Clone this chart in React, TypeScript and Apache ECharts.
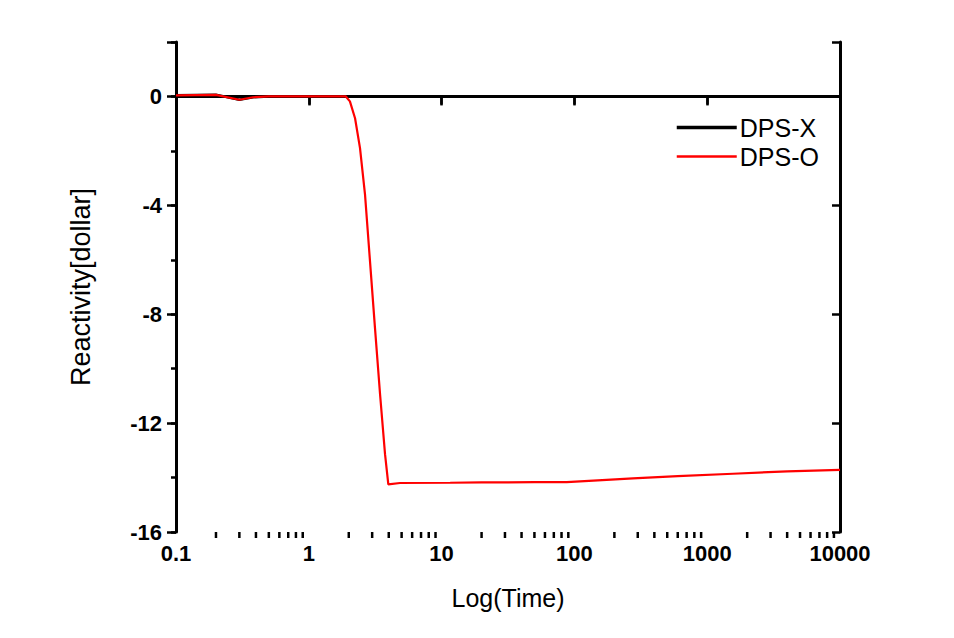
import React, { useEffect, useRef } from "react";
import * as echarts from "echarts";

const seriesNames = ["DPS-X", "DPS-O"];

// DPS-O (red)
const timeO = [0.1, 0.2, 0.3, 0.38, 0.5, 1, 1.5, 1.9, 2.04, 2.23, 2.43, 2.65, 2.89, 3.15, 3.44, 3.75, 3.97, 4.86, 11.6, 20, 50, 87.5, 150, 276, 600, 1563, 4000, 10000];
const valO = [0.04, 0.06, -0.12, -0.03, 0, 0, 0, 0, -0.18, -0.8, -1.9, -3.6, -6.06, -8.5, -10.94, -13.14, -14.25, -14.2, -14.19, -14.18, -14.17, -14.17, -14.1, -14.03, -13.95, -13.86, -13.77, -13.72];

// DPS-X (black)
const timeX = [0.1, 0.2, 0.3, 0.38, 0.5, 1, 1.9, 10, 100, 1000, 10000];
const valX = [0.04, 0.06, -0.12, -0.03, 0, 0, 0, 0, 0, 0, 0];

const xMin = 0.1;
const xMax = 10000;
const yMin = -16;
const yMax = 2;
const yLabelTicks = [0, -4, -8, -12, -16];

// log minor tick positions (2..9 within each decade)
const minorTickValues: number[] = [];
[0.1, 1, 10, 100, 1000].forEach((d) => {
  [2, 3, 4, 5, 6, 7, 8, 9].forEach((m) => minorTickValues.push(+(d * m).toPrecision(3)));
});

export default function App() {
  const ref = useRef<HTMLDivElement>(null);
  useEffect(() => {
    if (!ref.current) return;
    const chart = echarts.init(ref.current, null, { renderer: "svg" });
    const font = "'Liberation Sans', Arial, sans-serif";
    const axisLine = { show: true, lineStyle: { color: "#000", width: 3 } };
    chart.setOption({
      animation: false,
      backgroundColor: "#fff",
      grid: { left: 176, right: 114, top: 42, bottom: 106, containLabel: false },
      legend: {
        data: [
          { name: seriesNames[0], lineStyle: { width: 3.5 } },
          { name: seriesNames[1], lineStyle: { width: 2.5 } },
        ],
        orient: "vertical",
        left: 670,
        top: 110,
        itemWidth: 60,
        itemHeight: 16,
        itemGap: 4,
        itemStyle: { opacity: 0 },
        textStyle: { fontFamily: font, fontSize: 25, lineHeight: 25, color: "#000", padding: [0, 0, 0, -2] },
      },
      xAxis: [
        {
          type: "log",
          logBase: 10,
          min: xMin,
          max: xMax,
          position: "bottom",
          name: "Log(Time)",
          nameLocation: "middle",
          nameGap: 53,
          nameTextStyle: { fontFamily: font, fontSize: 25, color: "#000" },
          axisLine,
          axisTick: { show: true, inside: false, length: 9, lineStyle: { color: "#000", width: 2.5 } },
          minorTick: { show: false },
          splitLine: { show: false },
          axisLabel: {
            fontFamily: font,
            fontSize: 22,
            fontWeight: "bold",
            color: "#000",
            margin: 10,
            formatter: (v: number) => (v < 1 ? String(+v.toFixed(1)) : String(Math.round(v))),
          },
        },
        {
          type: "log",
          logBase: 10,
          min: xMin,
          max: xMax,
          position: "top",
          axisLine,
          axisTick: { show: true, inside: true, length: 8, lineStyle: { color: "#000", width: 2.5 } },
          axisLabel: { show: false },
          splitLine: { show: false },
        },
      ],
      yAxis: [
        {
          type: "value",
          min: yMin,
          max: yMax,
          interval: 4,
          position: "left",
          offset: 0,
          name: "Reactivity[dollar]",
          nameLocation: "middle",
          nameGap: 82,
          nameTextStyle: { fontFamily: font, fontSize: 27, color: "#000" },
          axisLine,
          axisTick: { show: true, inside: false, length: 9, lineStyle: { color: "#000", width: 2.5 } },
          splitLine: { show: false },
          axisLabel: {
            fontFamily: font,
            fontSize: 22,
            fontWeight: "bold",
            color: "#000",
            margin: 14,
            formatter: (v: number) => (yLabelTicks.indexOf(v) >= 0 ? String(v) : ""),
          },
        },
        {
          type: "value",
          min: yMin,
          max: yMax,
          interval: 2,
          position: "left",
          offset: 0,
          axisLine: { show: false },
          axisTick: { show: true, inside: false, length: 5, lineStyle: { color: "#000", width: 2.5 } },
          axisLabel: { show: false },
          splitLine: { show: false },
        },
        {
          type: "value",
          min: yMin,
          max: yMax,
          interval: 4,
          position: "right",
          offset: 0,
          axisLine,
          axisTick: { show: true, inside: true, length: 8, lineStyle: { color: "#000", width: 2.5 } },
          axisLabel: { show: false },
          splitLine: { show: false },
        },
      ],
      series: [
        {
          name: seriesNames[0],
          type: "line",
          xAxisIndex: 0,
          yAxisIndex: 0,
          symbol: "none",
          lineStyle: { color: "#000", width: 2.5 },
          itemStyle: { color: "#000" },
          data: timeX.map((t, i) => [t, valX[i]]),
          z: 2,
        },
        {
          name: seriesNames[1],
          type: "line",
          xAxisIndex: 0,
          yAxisIndex: 0,
          symbol: "none",
          lineStyle: { color: "#ff0000", width: 2.2 },
          itemStyle: { color: "#ff0000" },
          data: timeO.map((t, i) => [t, valO[i]]),
          z: 3,
        },
        {
          name: "minorTicks",
          type: "custom",
          xAxisIndex: 0,
          yAxisIndex: 0,
          clip: false,
          silent: true,
          data: minorTickValues.map((v) => [v, yMin]),
          renderItem: (params: any, api: any) => {
            const p = api.coord([api.value(0), api.value(1)]);
            return {
              type: "line",
              shape: { x1: p[0], y1: p[1], x2: p[0], y2: p[1] + 6 },
              style: { stroke: "#000", lineWidth: 2.5 },
            };
          },
          z: 1,
        },
      ],
    });
    return () => chart.dispose();
  }, []);
  return <div ref={ref} style={{ position: "absolute", left: 0, top: 0, width: 954, height: 638 }} />;
}
